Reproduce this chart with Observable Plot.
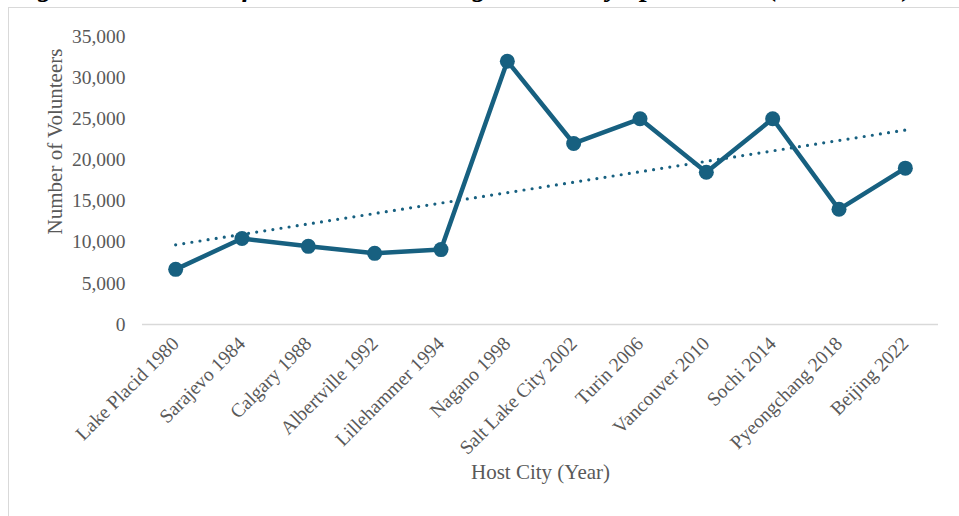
<!DOCTYPE html>
<html><head><meta charset="utf-8">
<script src="https://cdn.jsdelivr.net/npm/d3@7"></script>
<script src="https://cdn.jsdelivr.net/npm/@observablehq/plot@0.6"></script>
<style>
html,body{margin:0;padding:0;background:#fff;overflow:hidden;width:959px;height:516px;}
#frame{position:absolute;left:8px;top:7px;width:1000px;height:600px;border:1.5px solid #d9d9d9;box-sizing:border-box;}
#title{position:absolute;left:12px;top:-27px;font:italic bold 28px "Liberation Serif","Times New Roman",serif;white-space:nowrap;line-height:28px;color:#000;}
#chart{position:absolute;left:0;top:0;}
</style></head><body>
<div id="frame"></div>
<div id="title">Figure 1. Number of Volunteers Working Winter Olympic Games (1980–2022)</div>
<div id="chart"></div>
<script>
const cities = ["Lake Placid","Sarajevo","Calgary","Albertville","Lillehammer","Nagano","Salt Lake City","Turin","Vancouver","Sochi","Pyeongchang","Beijing"];
const years = [1980,1984,1988,1992,1994,1998,2002,2006,2010,2014,2018,2022];
const volunteers = [6700,10450,9500,8650,9100,32000,22000,25000,18500,25000,14000,19000];
const yTicks = [0,5000,10000,15000,20000,25000,30000,35000];

const labels = cities.map((c,i)=>`${c} ${years[i]}`);
const data = cities.map((c,i)=>({i, label: labels[i], v: volunteers[i]}));
const color = "#176080";
const grey = "#595959";

const plot = Plot.plot({
  width: 959, height: 516,
  marginLeft: 142, marginRight: 21, marginTop: 36, marginBottom: 192,
  style: {fontFamily: '"Liberation Serif","Times New Roman",serif', fontSize: "19.5px", color: grey, background: "transparent", overflow: "visible"},
  x: {domain: [-0.5, cities.length - 0.5]},
  y: {domain: [0, 35000]},
  marks: [
    Plot.ruleY([0], {stroke: "#d9d9d9", strokeWidth: 1.5}),
    Plot.axisY(yTicks, {tickSize: 0, tickPadding: 17, tickFormat: d3.format(","), label: null, fill: grey, fontSize: 19.5}),
    Plot.axisX(data.map(d => d.i), {tickSize: 0, tickPadding: 16, tickRotate: -45, tickFormat: i => labels[i], label: null, fill: grey, fontSize: 19.5}),
    Plot.linearRegressionY(data, {x: "i", y: "v", ci: 0, stroke: color, strokeWidth: 3.2, strokeDasharray: "0 8.2", strokeLinecap: "round"}),
    Plot.line(data, {x: "i", y: "v", stroke: color, strokeWidth: 4.5, strokeLinejoin: "round"}),
    Plot.dot(data, {x: "i", y: "v", r: 7.5, fill: color, stroke: "none"}),
    Plot.text(["Number of Volunteers"], {frameAnchor: "left", textAnchor: "middle", rotate: -90, dx: -87, dy: -39, fontSize: 21, fill: grey}),
    Plot.text(["Host City (Year)"], {frameAnchor: "bottom", textAnchor: "middle", dy: 154, fontSize: 21, fill: grey})
  ]
});
document.getElementById("chart").append(plot);
</script>
</body></html>
